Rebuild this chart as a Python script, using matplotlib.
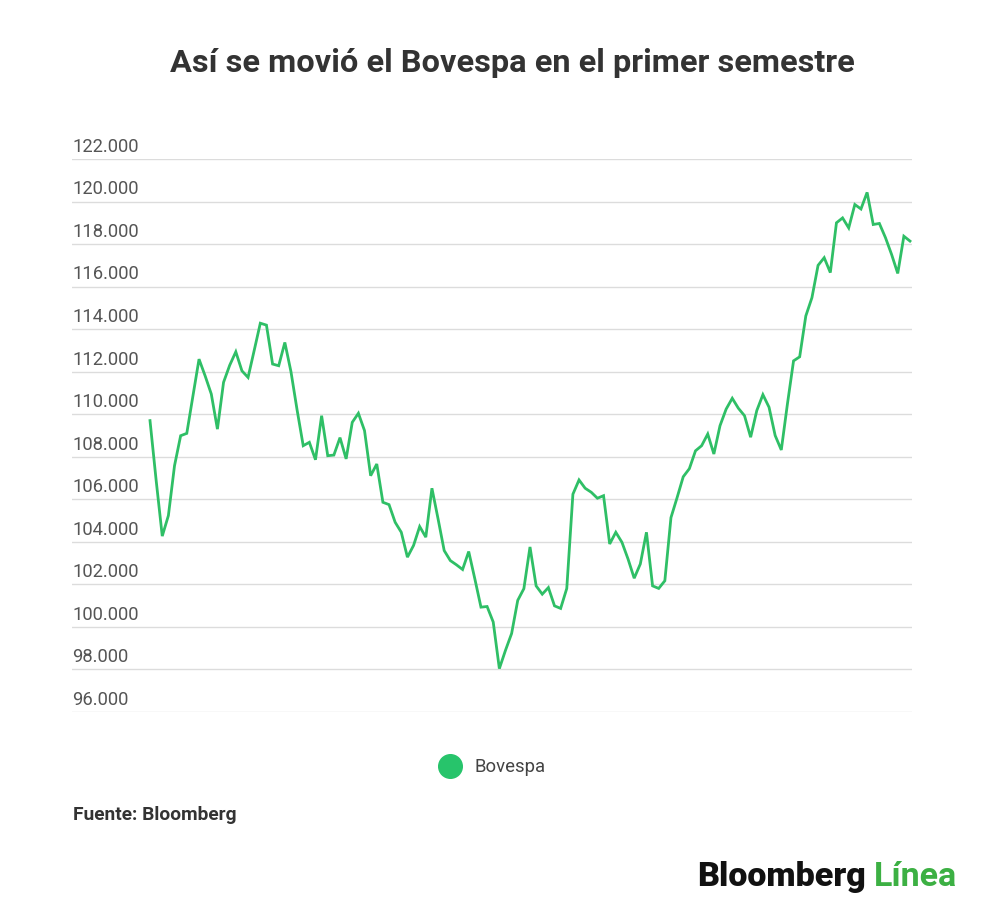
import numpy as np
import matplotlib
matplotlib.use('Agg')
import matplotlib.pyplot as plt
from matplotlib.lines import Line2D

# Bovespa, cierre diario del primer semestre
bovespa = [
    109700, 106900, 104270, 105235, 107580, 108990, 109100, 110850, 112590, 111800,
    110950, 109300, 111500, 112300, 112935, 112040, 111730, 113000, 114280, 114190,
    112360, 112280, 113375, 112000, 110200, 108520, 108680, 107860, 109930, 108050,
    108080, 108900, 107900, 109620, 110045, 109230, 107110, 107660, 105860, 105750,
    104920, 104450, 103280, 103830, 104720, 104220, 106520, 105080, 103590, 103120,
    102920, 102700, 103545, 102260, 100930, 100960, 100230, 98040, 98900, 99690,
    101250, 101800, 103760, 101930, 101540, 101850, 100990, 100870, 101810, 106240,
    106910, 106520, 106330, 106050, 106170, 103900, 104450, 103980, 103190, 102290,
    102960, 104450, 101930, 101810, 102170, 105140, 106080, 107060, 107440, 108280,
    108520, 109070, 108130, 109460, 110240, 110750, 110280, 109930, 108920, 110170,
    110920, 110330, 109000, 108320, 110480, 112510, 112700, 114620, 115480, 117000,
    117360, 116660, 119000, 119230, 118760, 119860, 119650, 120430, 118920, 118970,
    118300, 117510, 116620, 118370, 118140,
]
y_ticks = [96000, 98000, 100000, 102000, 104000, 106000, 108000, 110000,
           112000, 114000, 116000, 118000, 120000, 122000]
y_labels = [f'{v:,}'.replace(',', '.') for v in y_ticks]

plt.rcParams['font.family'] = ['Roboto', 'DejaVu Sans']

fig = plt.figure(figsize=(10, 9.2), dpi=100)
fig.patch.set_facecolor('white')

# area del grafico: lineas de grilla de x=72 a x=912 px
ax = fig.add_axes([0.072, 1 - 713 / 920, 0.84, (713 - 160) / 920])
n = len(bovespa)
step = (910 - 150) / (n - 1)
x = np.arange(n)
ax.plot(x, bovespa, color='#2fbf66', linewidth=2.0, solid_joinstyle='miter')
ax.set_xlim(-(150 - 72) / step, (n - 1) + (912 - 910) / step)
ax.set_ylim(96000, 122000)

ax.set_yticks(y_ticks)
ax.tick_params(axis='both', length=0, labelleft=False, labelbottom=False)
ax.set_xticks([])
ax.grid(True, axis='y', color='#dcdcdc', linewidth=1)
for s in ax.spines.values():
    s.set_visible(False)

for v, lab in zip(y_ticks, y_labels):
    ax.annotate(lab, xy=(0, v), xycoords=('axes fraction', 'data'),
                xytext=(0, 3), textcoords='offset points',
                ha='left', va='bottom', fontsize=13.2, color='#555555')

fig.text(0.512, 1 - 63 / 920, 'Así se movió el Bovespa en el primer semestre',
         ha='center', va='center', fontsize=23.4, fontweight='bold', color='#333333')

# leyenda
fig.add_artist(Line2D([450 / 1000], [1 - 767 / 920], marker='o', markersize=17,
                      color='#27c46b', linestyle='none', transform=fig.transFigure))
fig.text(475 / 1000, 1 - 767 / 920, 'Bovespa', ha='left', va='center',
         fontsize=13.3, color='#444444')

fig.text(73 / 1000, 1 - 815 / 920, 'Fuente: Bloomberg', ha='left', va='center',
         fontsize=13.8, fontweight='bold', color='#333333')

# logo
fig.text(697 / 1000, 1 - 877 / 920, 'Bloomberg', ha='left', va='center',
         fontsize=24.5, fontweight='heavy', color='#111111')
fig.text(874 / 1000, 1 - 877 / 920, 'Línea', ha='left', va='center',
         fontsize=24.5, fontweight='bold', color='#3cb043')

fig.savefig('out.png', dpi=100, facecolor='white')
